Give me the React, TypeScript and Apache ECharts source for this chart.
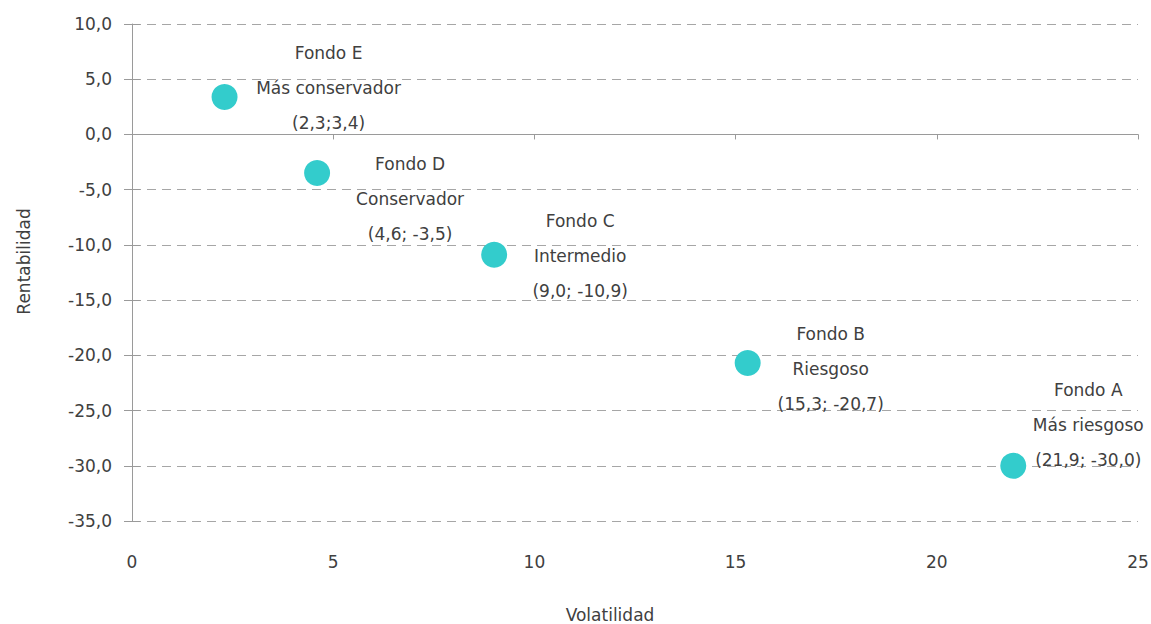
import React, { useEffect, useRef } from "react";
import * as echarts from "echarts";

const funds = ["Fondo E", "Fondo D", "Fondo C", "Fondo B", "Fondo A"];
const profiles = ["Más conservador", "Conservador", "Intermedio", "Riesgoso", "Más riesgoso"];
const volatility = [2.3, 4.6, 9.0, 15.3, 21.9];
const returns = [3.4, -3.5, -10.9, -20.7, -30.0];
const coordLabels = ["(2,3;3,4)", "(4,6; -3,5)", "(9,0; -10,9)", "(15,3; -20,7)", "(21,9; -30,0)"];

// label placement (layout only)
const labelOffsets: [number, number][] = [
  [104, -9],
  [93, 26],
  [86, 1],
  [83, 6],
  [75, -41],
];

const FONT = "DejaVu Sans";
const TEXT = "#404040";
const AXIS = "#9a9a9a";
const FS = 17;

export default function App() {
  const ref = useRef<HTMLDivElement>(null);
  useEffect(() => {
    if (!ref.current) return;
    const chart = echarts.init(ref.current, null, { renderer: "svg" });
    const data = volatility.map((v, i) => ({
      value: [v, returns[i]],
      label: {
        show: true,
        position: "inside",
        offset: labelOffsets[i],
        formatter: `${funds[i]}\n${profiles[i]}\n${coordLabels[i]}`,
        align: "center",
        verticalAlign: "middle",
        lineHeight: 35,
        fontSize: FS,
        fontFamily: FONT,
        color: TEXT,
      },
    }));
    chart.setOption({
      animation: false,
      backgroundColor: "#ffffff",
      grid: { left: 132, right: 13, top: 24, bottom: 103, containLabel: false, outerBoundsMode: "none" },
      xAxis: [
        {
          type: "value",
          min: 0,
          max: 25,
          interval: 5,
          axisLine: { show: true, onZero: true, lineStyle: { color: AXIS, width: 1 } },
          axisTick: { show: true, length: 5, lineStyle: { color: AXIS } },
          axisLabel: { show: false },
          splitLine: { show: false },
        },
        {
          type: "value",
          min: 0,
          max: 25,
          interval: 5,
          position: "bottom",
          axisLine: { show: false, onZero: false },
          axisTick: { show: false },
          axisLabel: { show: true, margin: 32, fontSize: FS, fontFamily: FONT, color: TEXT },
          splitLine: { show: false },
          name: "Volatilidad",
          nameLocation: "middle",
          nameGap: 85,
          nameTextStyle: { fontSize: FS, fontFamily: FONT, color: TEXT, padding: [0, 50, 0, 0] },
        },
      ],
      yAxis: [
        {
          type: "value",
          min: -35,
          max: 10,
          interval: 5,
          axisLine: { show: true, onZero: false, lineStyle: { color: AXIS, width: 1 } },
          axisTick: { show: true, length: 8, lineStyle: { color: AXIS } },
          axisLabel: {
            margin: 20,
            fontSize: FS,
            fontFamily: FONT,
            color: TEXT,
            formatter: (v: number) => v.toFixed(1).replace(".", ","),
          },
          splitLine: { show: true, lineStyle: { color: "#a6a6a6", type: [9, 6], width: 1 } },
          name: "Rentabilidad",
          nameLocation: "middle",
          nameGap: 100,
          nameTextStyle: { fontSize: FS, fontFamily: FONT, color: TEXT, padding: [0, 0, 0, 22] },
        },
        {
          type: "value",
          min: -35,
          max: 10,
          interval: 5,
          position: "left",
          axisLine: { show: false, onZero: false },
          axisTick: { show: true, inside: true, length: 8, lineStyle: { color: AXIS } },
          axisLabel: { show: false },
          splitLine: { show: false },
        },
      ],
      series: [
        {
          type: "scatter",
          xAxisIndex: 0,
          yAxisIndex: 0,
          symbol: "circle",
          symbolSize: 26,
          itemStyle: { color: "#33CCCC", opacity: 1 },
          data,
        },
      ],
    });
    return () => chart.dispose();
  }, []);
  return (
    <div
      ref={ref}
      style={{ position: "fixed", left: 0, top: 0, width: 1151, height: 624 }}
    />
  );
}
